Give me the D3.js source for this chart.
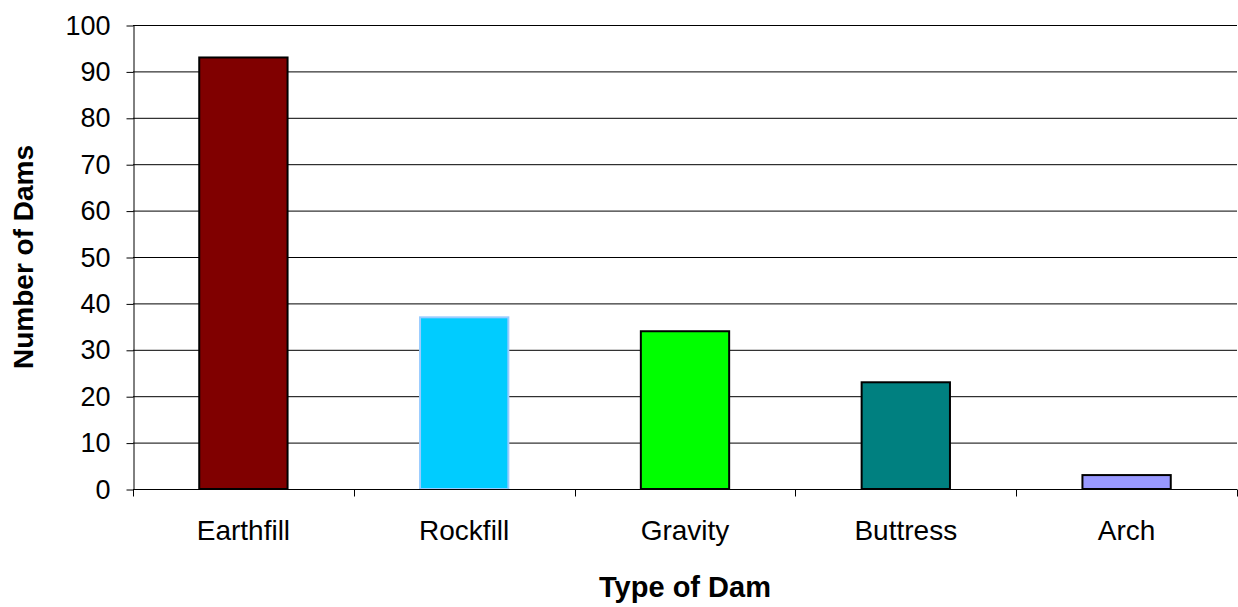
<!DOCTYPE html>
<html>
<head>
<meta charset="utf-8">
<script src="https://cdn.jsdelivr.net/npm/d3@7"></script>
<style>
  html, body { margin: 0; padding: 0; background: #fff; }
  svg { display: block; font-family: "Liberation Sans", Arial, sans-serif; }
</style>
</head>
<body>
<svg id="chart" width="1238" height="607"></svg>
<script>
// Dam counts by type
const categories = ["Earthfill", "Rockfill", "Gravity", "Buttress", "Arch"];
const counts = [93, 37, 34, 23, 3];
const fills = ["#800000", "#00ccff", "#00ff00", "#008080", "#9999ff"];
const strokes = ["#000000", "#99ccff", "#000000", "#000000", "#000000"];
const yTicks = [0, 10, 20, 30, 40, 50, 60, 70, 80, 90, 100];

(function () {
  const svg = d3.select("#chart");
  const plotLeft = 133, plotRight = 1237, plotTop = 25, plotBottom = 489;
  const fontStack = "Liberation Sans, Arial, sans-serif";

  const x = d3.scaleBand().domain(categories).range([plotLeft, plotRight]).paddingInner(0).paddingOuter(0);
  const y = d3.scaleLinear().domain([0, 100]).range([plotBottom, plotTop]);

  // horizontal gridlines
  svg.append("g")
    .selectAll("line")
    .data(yTicks.filter(d => d > 0))
    .join("line")
    .attr("x1", plotLeft).attr("x2", plotRight)
    .attr("y1", d => y(d) + 0.5).attr("y2", d => y(d) + 0.5)
    .attr("stroke", "#000").attr("stroke-width", 1);

  // bars
  const bw = x.bandwidth() * 0.4;
  svg.append("g")
    .selectAll("rect")
    .data(categories)
    .join("rect")
    .attr("x", d => x(d) + (x.bandwidth() - bw) / 2)
    .attr("y", (d, i) => y(counts[i]))
    .attr("width", bw)
    .attr("height", (d, i) => y(0) - y(counts[i]))
    .attr("fill", (d, i) => fills[i])
    .attr("stroke", (d, i) => strokes[i])
    .attr("stroke-width", 2);

  // y axis
  const yAxis = d3.axisLeft(y).tickValues(yTicks).tickSize(7).tickPadding(16).tickSizeOuter(0);
  const gy = svg.append("g").attr("transform", `translate(${plotLeft + 0.5},0.5)`).call(yAxis);
  gy.select(".domain").attr("stroke", "#000");
  gy.selectAll(".tick line").attr("stroke", "#000");
  gy.selectAll(".tick text").attr("font-size", 27).attr("fill", "#000")
    .attr("font-family", fontStack);

  // x axis with ticks at band boundaries
  const gx = svg.append("g").attr("transform", `translate(0,${plotBottom + 0.5})`);
  gx.append("line").attr("x1", plotLeft).attr("x2", plotRight).attr("stroke", "#000");
  const bounds = categories.map(c => x(c)).concat([plotRight]);
  gx.selectAll("line.tk").data(bounds).join("line").attr("class", "tk")
    .attr("x1", d => Math.round(d) + 0.5).attr("x2", d => Math.round(d) + 0.5)
    .attr("y1", 0).attr("y2", 7).attr("stroke", "#000");
  gx.selectAll("text").data(categories).join("text")
    .attr("x", d => x(d) + x.bandwidth() / 2)
    .attr("y", 50)
    .attr("text-anchor", "middle")
    .attr("font-size", 28)
    .text(d => d);

  // axis titles
  svg.append("text")
    .attr("x", (plotLeft + plotRight) / 2).attr("y", 597)
    .attr("text-anchor", "middle").attr("font-size", 29).attr("font-weight", "bold")
    .text("Type of Dam");
  svg.append("text")
    .attr("transform", `translate(33,${(plotTop + plotBottom) / 2}) rotate(-90)`)
    .attr("text-anchor", "middle").attr("font-size", 28).attr("font-weight", "bold")
    .text("Number of Dams");
})();
</script>
</body>
</html>
